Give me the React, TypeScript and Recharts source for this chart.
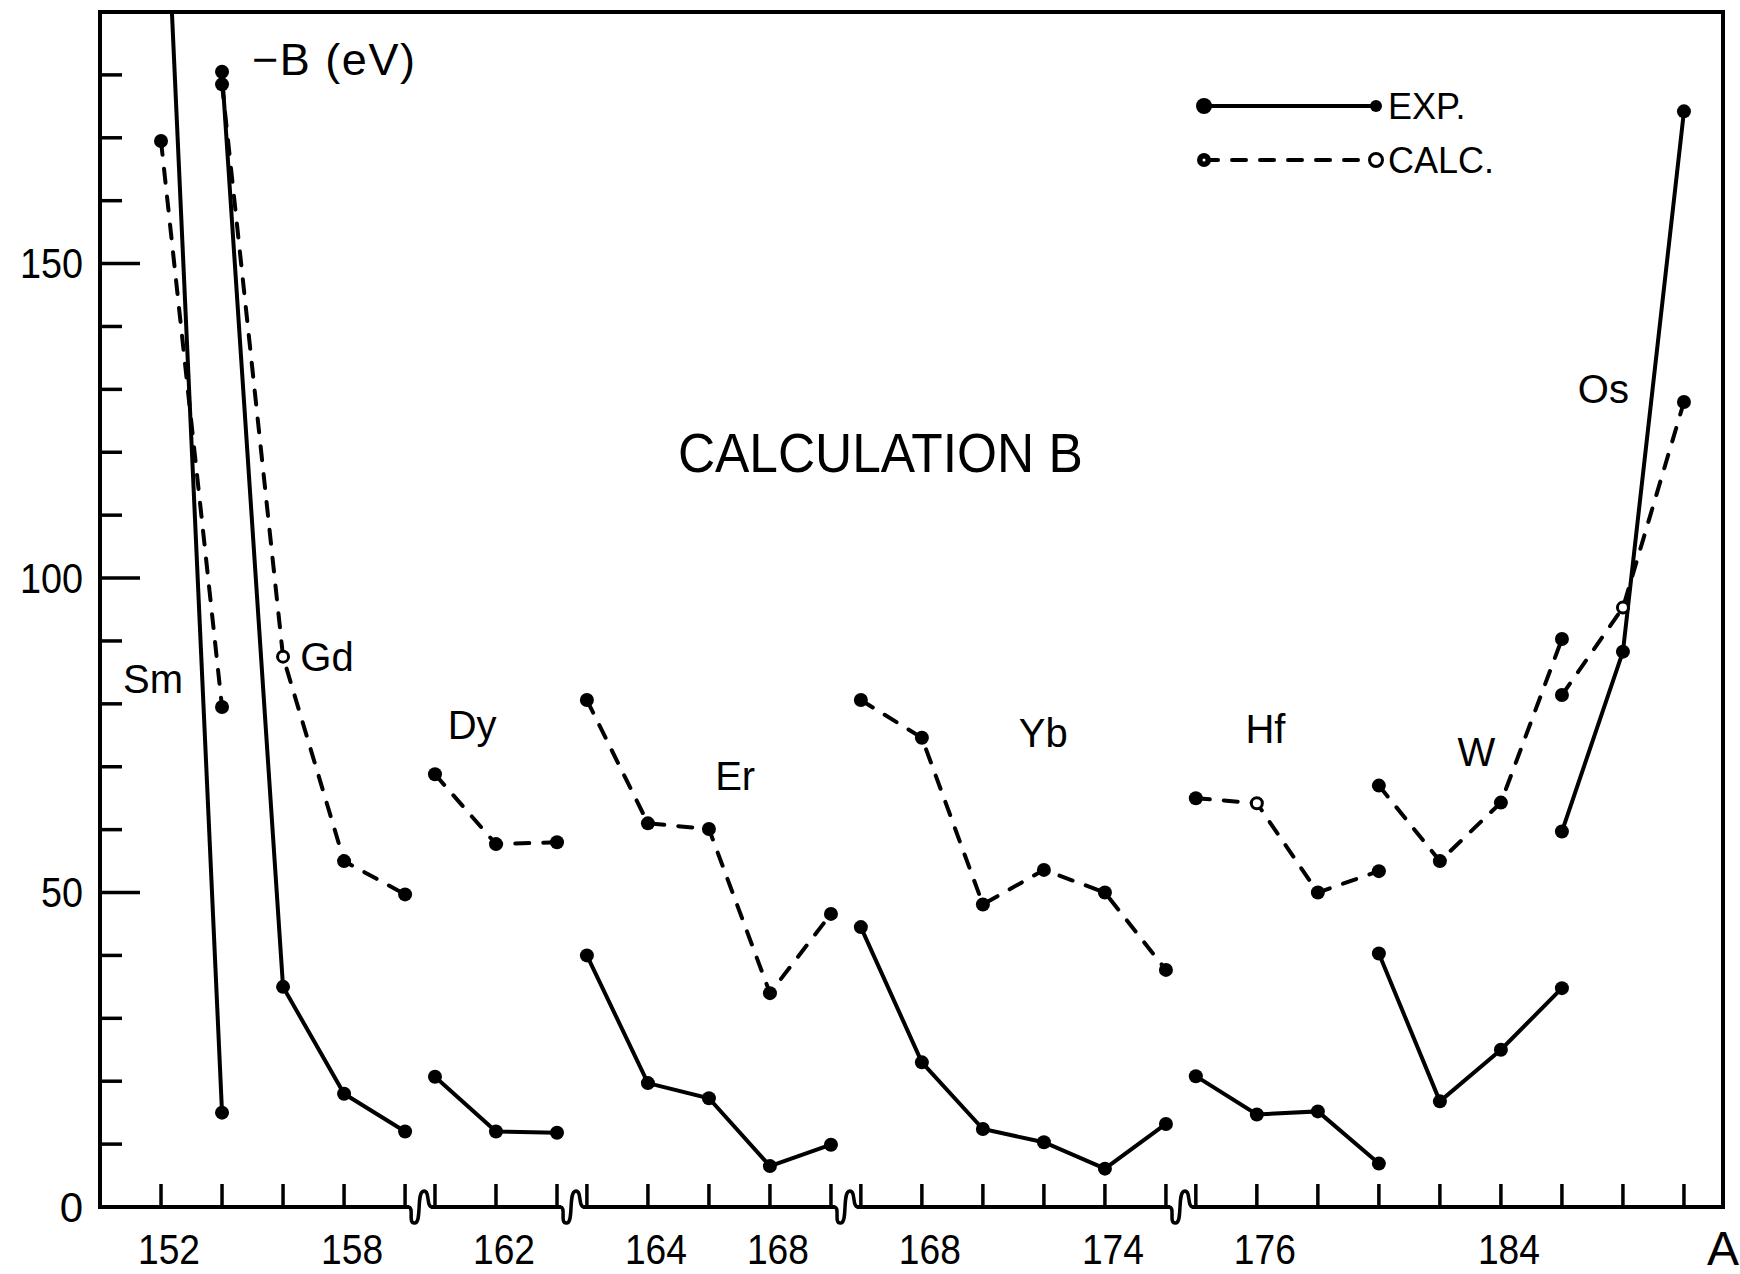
import React from 'react';
import { LineChart, Line, XAxis, YAxis, ReferenceArea, ReferenceDot, Legend } from 'recharts';

// ---------------- data ----------------
// x axis is broken into segments of mass number A (step 2)
const segmentStartA = [152, 160, 162, 166, 174];
const segmentEndA = [160, 164, 170, 176, 190];

const elementNames = ['Sm', 'Gd', 'Dy', 'Er', 'Yb', 'Hf', 'W', 'Os'];
const elementSegment = [0, 0, 1, 2, 3, 4, 4, 4];

const smA = [152, 154];
const smExp = [228, 15];
const smCalc = [169.5, 79.5];

const gdA = [154, 156, 158, 160];
const gdExp = [180.5, 35, 18, 12];
const gdCalc = [178.5, 87.5, 55, 49.7];

const dyA = [160, 162, 164];
const dyExp = [20.7, 12, 11.8];
const dyCalc = [68.8, 57.7, 58];

const erA = [162, 164, 166, 168, 170];
const erExp = [40, 19.7, 17.3, 6.5, 9.9];
const erCalc = [80.6, 61, 60.1, 34, 46.6];

const ybA = [166, 168, 170, 172, 174, 176];
const ybExp = [44.5, 23, 12.4, 10.3, 6.1, 13.2];
const ybCalc = [80.6, 74.6, 48.1, 53.6, 50, 37.7];

const hfA = [174, 176, 178, 180];
const hfExp = [20.8, 14.7, 15.2, 6.9];
const hfCalc = [65, 64.2, 50, 53.4];

const wA = [180, 182, 184, 186];
const wExp = [40.3, 16.8, 25, 34.8];
const wCalc = [67, 55, 64.3, 90.3];

const osA = [186, 188, 190];
const osExp = [59.7, 88.3, 174.2];
const osCalc = [81.4, 95.3, 128];

const xTickLabelA = [152, 158, 162, 164, 168, 168, 174, 176, 184];
const xTickLabelSeg = [0, 0, 1, 2, 2, 3, 3, 4, 4];
const yTickValues = [0, 10, 20, 30, 40, 50, 60, 70, 80, 90, 100, 110, 120, 130, 140, 150, 160, 170, 180];
const yTickLabelValues = [0, 50, 100, 150];

const seriesNames = ['EXP.', 'CALC.'];
const titleText = 'CALCULATION B';
const yTitleText = '\u2212B (eV)';
const xTitleText = 'A';

// ---------------- layout / style ----------------
const FONT = "'Liberation Sans', Arial, Helvetica, sans-serif";
const BREAK_GAP = 0.49;
const X_DOMAIN: [number, number] = [-1, 25.6];
const Y_DOMAIN: [number, number] = [0, 190];
const openCalcPoints = ['Gd-156', 'Hf-176', 'Os-188'];

// annotation anchors (axis units: position, value)
const elementLabelAt: Record<string, [number, number]> = {
  Sm: [-0.13, 84],
  Gd: [2.72, 87.4],
  Dy: [5.1, 76.6],
  Er: [9.41, 68.6],
  Yb: [14.46, 75.3],
  Hf: [18.1, 76],
  W: [21.56, 72.4],
  Os: [23.64, 130.1],
};
const titleAt: [number, number] = [11.79, 120];
const yTitleAt: [number, number] = [1.49, 182.4];

const segOffset: number[] = (() => {
  const o: number[] = [];
  let acc = 0;
  segmentStartA.forEach((s, i) => {
    o.push(acc);
    acc += (segmentEndA[i] - s) / 2 + BREAK_GAP;
  });
  return o;
})();
const posOf = (seg: number, A: number) => segOffset[seg] + (A - segmentStartA[seg]) / 2;

type TickInfo = { pos: number; kind: 'tick' | 'break'; label?: string };
const xTicks: TickInfo[] = [];
segmentStartA.forEach((s, i) => {
  for (let A = s; A <= segmentEndA[i]; A += 2) {
    const li = xTickLabelA.findIndex((la, k) => la === A && xTickLabelSeg[k] === i);
    xTicks.push({ pos: posOf(i, A), kind: 'tick', label: li >= 0 ? String(xTickLabelA[li]) : undefined });
  }
  if (i < segmentStartA.length - 1) {
    xTicks.push({ pos: posOf(i, segmentEndA[i]) + BREAK_GAP / 2, kind: 'break' });
  }
});

const rawGroups = [
  { A: smA, exp: smExp, calc: smCalc },
  { A: gdA, exp: gdExp, calc: gdCalc },
  { A: dyA, exp: dyExp, calc: dyCalc },
  { A: erA, exp: erExp, calc: erCalc },
  { A: ybA, exp: ybExp, calc: ybCalc },
  { A: hfA, exp: hfExp, calc: hfCalc },
  { A: wA, exp: wExp, calc: wCalc },
  { A: osA, exp: osExp, calc: osCalc },
];

const groups = rawGroups.map((g, i) => {
  const name = elementNames[i];
  const seg = elementSegment[i];
  return {
    name,
    expData: g.A.map((A, k) => ({ pos: posOf(seg, A), v: g.exp[k], A })),
    calcData: g.A.map((A, k) => ({
      pos: posOf(seg, A),
      v: g.calc[k],
      A,
      open: openCalcPoints.includes(`${name}-${A}`),
    })),
  };
});

// ---------------- renderers ----------------
const XTick = (props: any) => {
  const { x, y, payload } = props;
  const info = xTicks.find((t) => Math.abs(t.pos - payload.value) < 1e-6);
  if (!info) return <g />;
  if (info.kind === 'break') {
    const d = `M ${x - 12} ${y} C ${x - 5} ${y} ${x - 13} ${y + 17} ${x - 5} ${y + 16} C ${x + 2} ${y + 15} ${x - 4} ${y - 16} ${x + 4} ${y - 16} C ${x + 10} ${y - 16} ${x + 6} ${y} ${x + 12} ${y}`;
    return (
      <g>
        <rect x={x - 11} y={y - 3} width={22} height={6} fill="#fff" />
        <path d={d} fill="none" stroke="#000" strokeWidth={3.5} strokeLinecap="round" />
      </g>
    );
  }
  return (
    <g>
      <line x1={x} x2={x} y1={y} y2={y - 23} stroke="#000" strokeWidth={3.5} />
      {info.label ? (
        <text
          x={x + 8}
          y={y + 42}
          textAnchor="middle"
          dominantBaseline="central"
          fontSize={42}
          fontFamily={FONT}
          fill="#000"
          textLength={62}
          lengthAdjust="spacingAndGlyphs"
        >
          {info.label}
        </text>
      ) : null}
    </g>
  );
};

const YTick = (props: any) => {
  const { x, y, payload } = props;
  const v = payload.value as number;
  const major = v % 50 === 0;
  const labeled = yTickLabelValues.includes(v);
  const s = String(v);
  return (
    <g>
      {v !== 0 ? (
        <line x1={x} x2={x + (major ? 40 : 22)} y1={y} y2={y} stroke="#000" strokeWidth={3.5} />
      ) : null}
      {labeled ? (
        <text
          x={x - 17}
          y={y}
          textAnchor="end"
          dominantBaseline="central"
          fontSize={42}
          fontFamily={FONT}
          fill="#000"
          textLength={s.length === 1 ? undefined : 21 * s.length}
          lengthAdjust="spacingAndGlyphs"
        >
          {s}
        </text>
      ) : null}
    </g>
  );
};

const ExpDot = (p: any) => {
  if (p.cx == null || p.cy == null) return <g key={p.key} />;
  return <circle key={p.key} cx={p.cx} cy={p.cy} r={7} fill="#000" />;
};

const CalcDot = (p: any) => {
  if (p.cx == null || p.cy == null) return <g key={p.key} />;
  if (p.payload && p.payload.open) {
    return <circle key={p.key} cx={p.cx} cy={p.cy} r={5.5} fill="#fff" stroke="#000" strokeWidth={3} />;
  }
  return <circle key={p.key} cx={p.cx} cy={p.cy} r={7} fill="#000" />;
};

const LegendContent = () => (
  <svg width={340} height={110} style={{ display: 'block', overflow: 'visible' }}>
    <line x1={24} y1={26} x2={196} y2={26} stroke="#000" strokeWidth={4} />
    <circle cx={24} cy={26} r={8} fill="#000" />
    <circle cx={196} cy={26} r={6} fill="#000" />
    <text x={208} y={26} dominantBaseline="central" fontSize={36} fontFamily={FONT} fill="#000">
      {seriesNames[0]}
    </text>
    <line
      x1={24}
      y1={80}
      x2={196}
      y2={80}
      stroke="#000"
      strokeWidth={4}
      strokeDasharray="14 14"
      strokeLinecap="round"
    />
    <circle cx={24} cy={80} r={7} fill="#000" />
    <circle cx={24} cy={80} r={1.5} fill="#fff" />
    <circle cx={196} cy={80} r={6.5} fill="#fff" stroke="#000" strokeWidth={3} />
    <text x={208} y={80} dominantBaseline="central" fontSize={36} fontFamily={FONT} fill="#000">
      {seriesNames[1]}
    </text>
  </svg>
);

const textShape = (
  txt: string,
  size: number,
  anchor: 'start' | 'middle' = 'middle',
  length?: number,
  adjust: 'spacing' | 'spacingAndGlyphs' = 'spacing'
) =>
  (p: any) => (
    <text
      x={p.cx}
      y={p.cy}
      textAnchor={anchor}
      dominantBaseline="central"
      fontSize={size}
      fontFamily={FONT}
      fill="#000"
      textLength={length}
      lengthAdjust={length ? adjust : undefined}
    >
      {txt}
    </text>
  );

const XTitle = (props: any) => {
  const vb = props.viewBox || { x: 0, y: 0, width: 0, height: 0 };
  return (
    <text
      x={vb.x + vb.width}
      y={vb.y + 41}
      textAnchor="middle"
      dominantBaseline="central"
      fontSize={48}
      fontFamily={FONT}
      fill="#000"
    >
      {xTitleText}
    </text>
  );
};

export default function App() {
  return (
    <div style={{ position: 'absolute', left: 0, top: 0, width: 1740, height: 1274, background: '#fff' }}>
      <LineChart width={1740} height={1274} margin={{ top: 12, right: 17, bottom: 7, left: 40 }}>
        <XAxis
          type="number"
          dataKey="pos"
          domain={X_DOMAIN}
          ticks={xTicks.map((t) => t.pos)}
          interval={0}
          allowDataOverflow
          tick={XTick}
          tickLine={false}
          tickSize={0}
          tickMargin={0}
          axisLine={{ stroke: '#000', strokeWidth: 4 }}
          height={60}
          label={XTitle}
        />
        <YAxis
          type="number"
          domain={Y_DOMAIN}
          ticks={yTickValues}
          interval={0}
          allowDataOverflow
          tick={YTick}
          tickLine={false}
          tickSize={0}
          tickMargin={0}
          axisLine={{ stroke: '#000', strokeWidth: 4 }}
          width={60}
        />
        <ReferenceArea
          x1={X_DOMAIN[0]}
          x2={X_DOMAIN[1]}
          y1={Y_DOMAIN[0]}
          y2={Y_DOMAIN[1]}
          fill="none"
          fillOpacity={0}
          stroke="#000"
          strokeWidth={4}
          ifOverflow="visible"
        />
        {groups.map((g) => (
          <Line
            key={g.name + '-exp'}
            name={`${g.name} ${seriesNames[0]}`}
            data={g.expData}
            dataKey="v"
            type="linear"
            stroke="#000"
            strokeWidth={4}
            dot={ExpDot}
            activeDot={false}
            legendType="none"
            isAnimationActive={false}
          />
        ))}
        {groups.map((g) => (
          <Line
            key={g.name + '-calc'}
            name={`${g.name} ${seriesNames[1]}`}
            data={g.calcData}
            dataKey="v"
            type="linear"
            stroke="#000"
            strokeWidth={4}
            strokeDasharray="14 14"
            strokeLinecap="round"
            dot={CalcDot}
            activeDot={false}
            legendType="none"
            isAnimationActive={false}
          />
        ))}
        {elementNames.map((n) => (
          <ReferenceDot
            key={'lbl-' + n}
            x={elementLabelAt[n][0]}
            y={elementLabelAt[n][1]}
            r={0}
            ifOverflow="visible"
            shape={textShape(n, 40)}
          />
        ))}
        <ReferenceDot
          x={titleAt[0]}
          y={titleAt[1]}
          r={0}
          ifOverflow="visible"
          shape={textShape(titleText, 56, 'middle', 405, 'spacingAndGlyphs')}
        />
        <ReferenceDot x={yTitleAt[0]} y={yTitleAt[1]} r={0} ifOverflow="visible" shape={textShape(yTitleText, 45, 'start', 163)} />
        <Legend
          layout="horizontal"
          align="center"
          verticalAlign="middle"
          content={LegendContent}
          wrapperStyle={{ left: 1180, top: 80, width: 340, height: 110 }}
        />
      </LineChart>
    </div>
  );
}
